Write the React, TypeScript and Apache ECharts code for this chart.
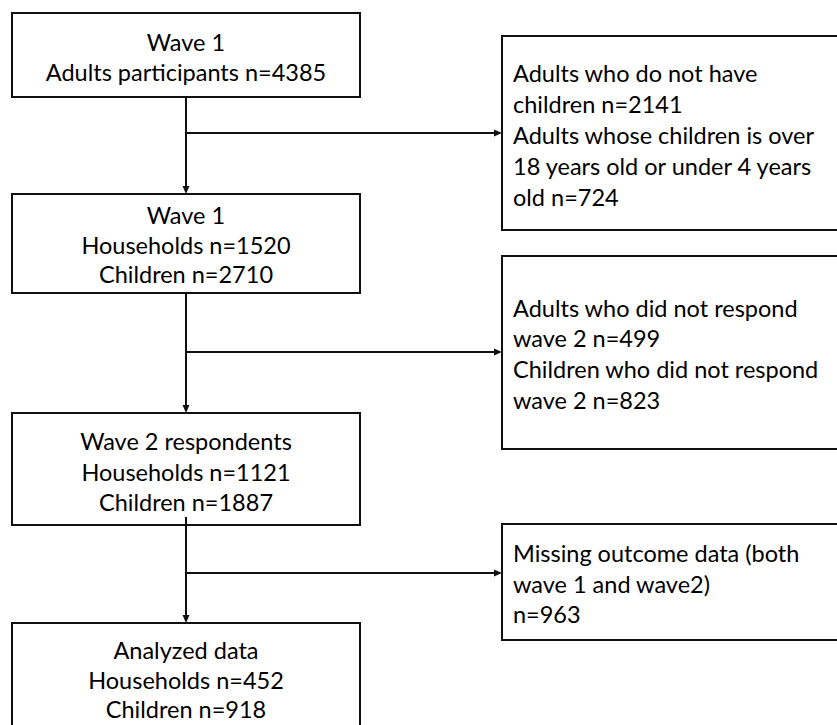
import React, { useEffect, useRef } from "react";
import * as echarts from "echarts";

// ---- content ----
const mainBoxes: string[][] = [
  ["Wave 1", "Adults participants n=4385"],
  ["Wave 1", "Households n=1520", "Children n=2710"],
  ["Wave 2 respondents", "Households n=1121", "Children n=1887"],
  ["Analyzed data", "Households n=452", "Children n=918"],
];
const sideBoxes: string[][] = [
  [
    "Adults who do not have",
    "children n=2141",
    "Adults whose children is over",
    "18 years old or under 4 years",
    "old n=724",
  ],
  [
    "Adults who did not respond",
    "wave 2 n=499",
    "Children who did not respond",
    "wave 2 n=823",
  ],
  ["Missing outcome data (both", "wave 1 and wave2)", "n=963"],
];

// ---- layout ----
const mainLayout = [
  { x: 12, y: 13, w: 348, h: 84, lines: [42, 72] },
  { x: 12, y: 194, w: 348, h: 99, lines: [215, 245, 274] },
  { x: 12, y: 413, w: 348, h: 112, lines: [441, 472, 502] },
  { x: 12, y: 623, w: 348, h: 130, lines: [650, 680, 709] },
];
const sideLayout = [
  { x: 502, y: 36, w: 345, h: 194, lines: [73, 104, 135, 166, 197] },
  { x: 502, y: 256, w: 345, h: 193, lines: [308, 338, 369, 400] },
  { x: 502, y: 524, w: 345, h: 116, lines: [553, 584, 614] },
];
const CX = 186;
const branchY = [133, 352, 573];
const FONT = "23.5px Lato";
const INK = "#111";

function arrowHead(tx: number, ty: number, dir: "down" | "right") {
  const L = 8;
  const W = 3.5;
  const pts =
    dir === "down"
      ? [
          [tx, ty],
          [tx - W, ty - L],
          [tx + W, ty - L],
        ]
      : [
          [tx, ty],
          [tx - L, ty - W],
          [tx - L, ty + W],
        ];
  return { type: "polygon", shape: { points: pts }, style: { fill: INK } };
}

function line(x1: number, y1: number, x2: number, y2: number, w = 2) {
  return {
    type: "line",
    shape: { x1, y1, x2, y2 },
    style: { stroke: INK, lineWidth: w },
  };
}

export default function App() {
  const ref = useRef<HTMLDivElement>(null);
  useEffect(() => {
    document.body.style.margin = "0";
    const chart = echarts.init(ref.current!, undefined, { renderer: "svg" });
    const els: any[] = [];

    mainLayout.forEach((b, i) => {
      els.push({
        type: "rect",
        shape: { x: b.x, y: b.y, width: b.w, height: b.h },
        style: { fill: "#fff", stroke: INK, lineWidth: 2 },
      });
      mainBoxes[i].forEach((t, j) => {
        els.push({
          type: "text",
          style: {
            text: t,
            x: CX,
            y: b.lines[j],
            font: FONT,
            fill: "#000",
            textAlign: "center",
            textVerticalAlign: "middle",
          },
        });
      });
    });

    sideLayout.forEach((b, i) => {
      els.push({
        type: "rect",
        shape: { x: b.x, y: b.y, width: b.w, height: b.h },
        style: { fill: "#fff", stroke: INK, lineWidth: 2 },
      });
      sideBoxes[i].forEach((t, j) => {
        els.push({
          type: "text",
          style: {
            text: t,
            x: 513,
            y: b.lines[j],
            font: FONT,
            fill: "#000",
            textAlign: "left",
            textVerticalAlign: "middle",
          },
        });
      });
    });

    // vertical connectors
    for (let i = 0; i < mainLayout.length - 1; i++) {
      const a = mainLayout[i];
      const b = mainLayout[i + 1];
      const y1 = i === 2 ? a.y + a.h - 8 : a.y + a.h;
      els.push(line(CX, y1, CX, b.y - 6));
      els.push(arrowHead(CX, b.y, "down"));
    }
    // branches
    branchY.forEach((y, i) => {
      const tx = sideLayout[i].x;
      els.push(line(CX, y, tx - 6, y));
      els.push(arrowHead(tx, y, "right"));
    });

    chart.setOption({
      animation: false,
      backgroundColor: "#fff",
      graphic: { elements: els },
    });
    return () => chart.dispose();
  }, []);
  return <div ref={ref} style={{ width: 837, height: 725 }} />;
}
